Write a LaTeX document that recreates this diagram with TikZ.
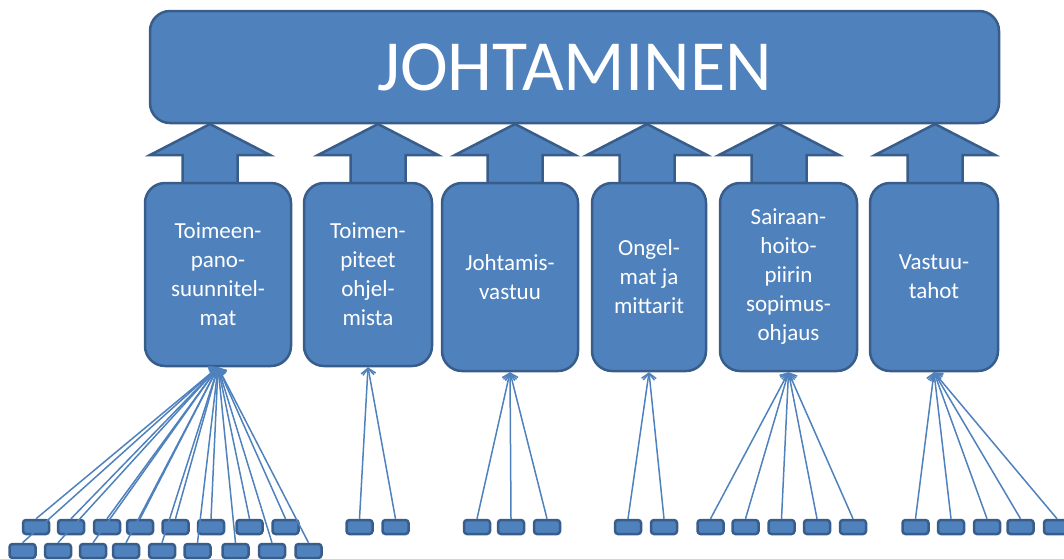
\documentclass[tikz,border=0pt]{standalone}
\usepackage{fontspec}
\setmainfont{Carlito}
\usetikzlibrary{arrows.meta}
\definecolor{mblue}{RGB}{79,129,189}
\definecolor{mline}{RGB}{56,93,138}
\tikzset{bigbox/.style = {draw = mline, fill = mblue, line width = 2.5pt,
                          rounded corners = 20pt, text = white, inner sep = 0}}
\tikzset{midbox/.style = {bigbox, align = center,
                          font = \fontsize{23}{29}\selectfont}}
\tikzset{leaf/.style = {draw = mline, fill = mblue, line width = 2.5pt,
                        rounded corners = 3pt, minimum width = 26pt,
                        minimum height = 14pt, inner sep = 0}}
\tikzset{blockarrow/.style = {draw = mline, fill = mblue, line width = 2.5pt}}
\tikzset{feed/.style = {draw = mblue, line width = 1.5pt,
                        -{Straight Barb[length = 6pt, width = 13pt]}}}
% leaves: x / y / box they feed
\def\leaves{36/527/b1, 71/527/b1, 107/527/b1, 140/527/b1, 175.5/527/b1,
  211/527/b1, 249.5/527/b1, 285.5/527/b1,
  22.5/551/b1, 58/551/b1, 93/551/b1, 126/551/b1, 162/551/b1,
  197.5/551/b1, 235.5/551/b1, 272/551/b1, 308.5/551/b1,
  359.5/527/b2, 395.5/527/b2,
  477/527/b3, 511/527/b3, 547/527/b3,
  628/527/b4, 664/527/b4,
  710.5/527/b5, 745.5/527/b5, 781.5/527/b5, 817/527/b5, 853/527/b5,
  915.5/527/b6, 951/527/b6, 987/527/b6, 1020.5/527/b6, 1057/527/b6}
\begin{document}
\begin{tikzpicture}[x = 1pt, y = -1pt]
      \useasboundingbox (0, 0) rectangle (1064, 558);
      \clip (0, 0) rectangle (1064, 558);

      \foreach \a in {210, 378, 515, 647, 779, 935}
        \draw [blockarrow] (\a, 124) -- ++(60, 31) -- ++(-32.5, 0) -- ++(0, 28)
          -- ++(-55, 0) -- ++(0, -28) -- ++(-32.5, 0) -- cycle;

      \node [bigbox, minimum width = 849pt, minimum height = 112pt,
             font = \fontsize{72}{80}\selectfont] (top) at (574.5, 67) {JOHTAMINEN};

      \node [midbox, minimum width = 146pt, minimum height = 183pt] (b1) at (218, 274.5)
            {Toimeen-\\pano-\\suunnitel-\\mat};
      \node [midbox, minimum width = 128pt, minimum height = 183pt] (b2) at (368, 274.5)
            {Toimen-\\piteet\\ohjel-\\mista};
      \node [midbox, minimum width = 136pt, minimum height = 188pt] (b3) at (510, 277)
            {Johtamis-\\vastuu};
      \node [midbox, minimum width = 114pt, minimum height = 188pt] (b4) at (649, 277)
            {Ongel-\\mat ja\\mittarit};
      \node [midbox, minimum width = 137pt, minimum height = 188pt] (b5) at (788.5, 277)
            {Sairaan-\\hoito-\\piirin\\sopimus-\\ohjaus};
      \node [midbox, minimum width = 128pt, minimum height = 188pt] (b6) at (934, 277)
            {Vastuu-\\tahot};

      \foreach \x/\y/\hub [count = \n] in \leaves
        \node [leaf] (leaf\n) at (\x, \y) {};
      \foreach \x/\y/\hub [count = \n] in \leaves
        \draw [feed] (leaf\n.north) -- (\hub.south);
    \end{tikzpicture}
\end{document}
